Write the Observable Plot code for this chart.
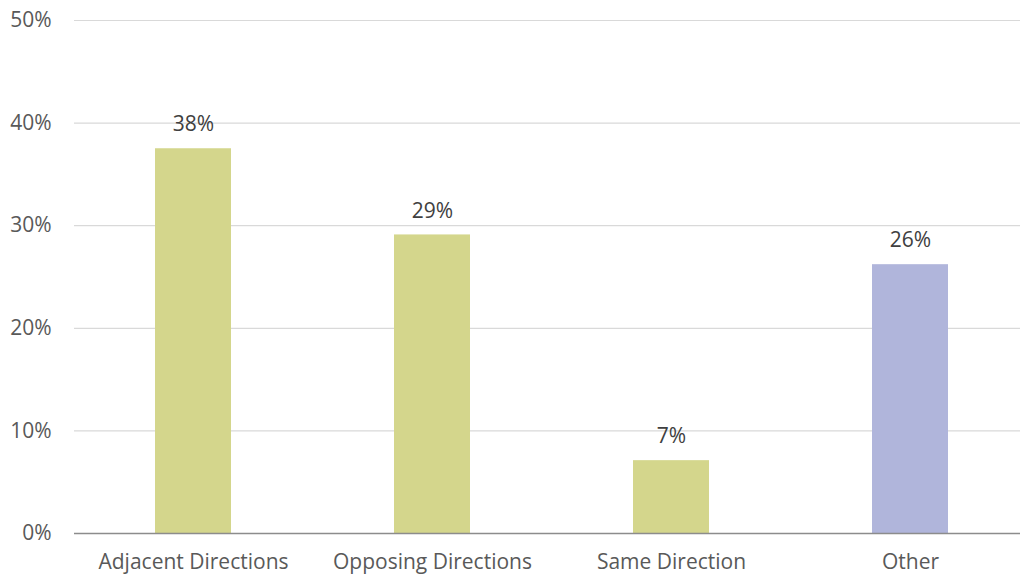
<!DOCTYPE html>
<html><head><meta charset="utf-8">
<script src="https://cdn.jsdelivr.net/npm/d3@7"></script>
<script src="https://cdn.jsdelivr.net/npm/@observablehq/plot@0.6"></script>
<style>body{margin:0;background:#fff;} svg{overflow:hidden}</style>
</head><body><div id="chart"></div>
<script>
const categories = ["Adjacent Directions", "Opposing Directions", "Same Direction", "Other"];
const values = [0.375, 0.291, 0.071, 0.262];
const labels = ["38%", "29%", "7%", "26%"];
const groups = ["dir", "dir", "dir", "other"];
const yTicks = [0, 0.1, 0.2, 0.3, 0.4, 0.5];

const data = categories.map((c, i) => ({cat: c, v: values[i], label: labels[i], g: groups[i]}));

const font = "'Open Sans', sans-serif";
const chart = Plot.plot({
  width: 1020, height: 577,
  marginTop: 20, marginBottom: 44, marginLeft: 74, marginRight: 0,
  style: {fontFamily: font, fontSize: "21px", color: "#595959", background: "#fff"},
  x: {domain: categories, range: [74, 1030], paddingInner: 0.68, paddingOuter: 0.34, align: 0.5, label: null},
  y: {domain: [0, 0.5], label: null},
  color: {domain: ["dir", "other"], range: ["#D4D68C", "#B0B5DB"]},
  marks: [
    Plot.ruleY(yTicks.filter(d => d > 0), {stroke: "#d9d9d9", strokeWidth: 1.2}),
    Plot.barY(data, {x: "cat", y: "v", fill: "g"}),
    Plot.ruleY([0], {stroke: "#8c8c8c", strokeWidth: 1.5}),
    Plot.text(data, {x: "cat", y: "v", text: "label", dy: -24, fill: "#404040", fontSize: 21, fontFamily: font}),
    Plot.axisY({ticks: yTicks, tickFormat: d3.format(".0%"), tickSize: 0, tickPadding: 23, fontSize: 21, fontFamily: font, fill: "#595959", label: null}),
    Plot.axisX({tickSize: 0, tickPadding: 21, fontSize: 21, fontFamily: font, fill: "#595959", label: null})
  ]
});
document.getElementById("chart").appendChild(chart);
</script></body></html>
